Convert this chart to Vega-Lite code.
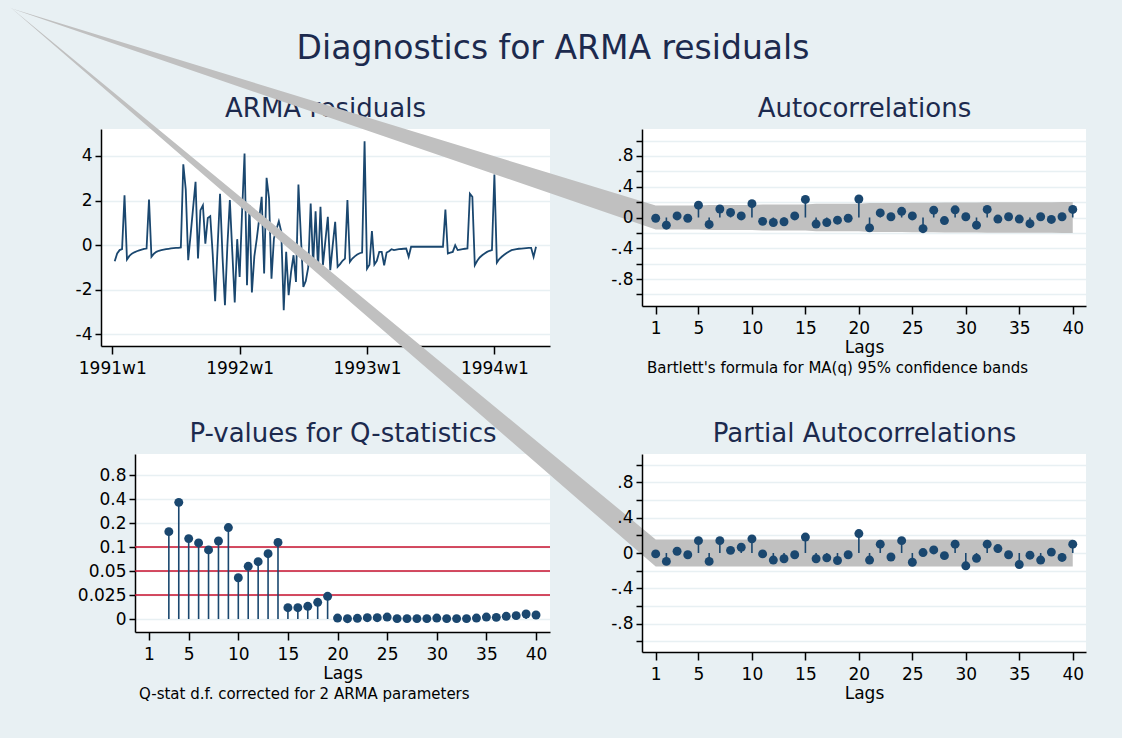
{
  "$schema": "https://vega.github.io/schema/vega-lite/v6.json",
  "background": "#e8f0f3",
  "padding": {"left": 8, "top": 6, "right": 36, "bottom": 37},
  "title": {"text": "Diagnostics for ARMA residuals", "fontSize": 33, "anchor": "middle", "frame": "bounds", "offset": -59, "dx": 6},
  "datasets": {
    "ts": [
      {"t":1,"v":-0.72},{"t":2,"v":-0.37},{"t":3,"v":-0.22},{"t":4,"v":-0.18},{"t":5,"v":2.24},{"t":6,"v":-0.64},{"t":7,"v":-0.48},{"t":8,"v":-0.38},{"t":9,"v":-0.32},{"t":10,"v":-0.27},
      {"t":11,"v":-0.23},{"t":12,"v":-0.2},{"t":13,"v":-0.17},{"t":14,"v":-0.15},{"t":15,"v":2.05},{"t":16,"v":-0.52},{"t":17,"v":-0.38},{"t":18,"v":-0.3},{"t":19,"v":-0.25},{"t":20,"v":-0.22},
      {"t":21,"v":-0.2},{"t":22,"v":-0.18},{"t":23,"v":-0.16},{"t":24,"v":-0.14},{"t":25,"v":-0.13},{"t":26,"v":-0.12},{"t":27,"v":-0.12},{"t":28,"v":-0.1},{"t":29,"v":3.63},{"t":30,"v":2.5},
      {"t":31,"v":-0.67},{"t":32,"v":0.5},{"t":33,"v":1.67},{"t":34,"v":2.84},{"t":35,"v":-0.6},{"t":36,"v":1.57},{"t":37,"v":1.79},{"t":38,"v":0.07},{"t":39,"v":1.22},{"t":40,"v":1.3},
      {"t":41,"v":-0.4},{"t":42,"v":-2.51},{"t":43,"v":-0.1},{"t":44,"v":2.31},{"t":45,"v":-0.5},{"t":46,"v":-2.69},{"t":47,"v":0.0},{"t":48,"v":2.02},{"t":49,"v":-0.3},{"t":50,"v":-2.57},
      {"t":51,"v":0.27},{"t":52,"v":-1.42},{"t":53,"v":1.5},{"t":54,"v":4.11},{"t":55,"v":-1.79},{"t":56,"v":1.79},{"t":57,"v":-2.12},{"t":58,"v":-0.5},{"t":59,"v":0.3},{"t":60,"v":1.2},
      {"t":61,"v":2.17},{"t":62,"v":-1.27},{"t":63,"v":3.02},{"t":64,"v":2.1},{"t":65,"v":-1.5},{"t":66,"v":0.3},{"t":67,"v":0.7},{"t":68,"v":1.07},{"t":69,"v":0.6},{"t":70,"v":-2.92},
      {"t":71,"v":-0.3},{"t":72,"v":-2.24},{"t":73,"v":-1.2},{"t":74,"v":-0.45},{"t":75,"v":-1.65},{"t":76,"v":2.72},{"t":77,"v":0.4},{"t":78,"v":-1.87},{"t":79,"v":-1.6},{"t":80,"v":-1.0},
      {"t":81,"v":1.87},{"t":82,"v":-0.9},{"t":83,"v":1.52},{"t":84,"v":-1.05},{"t":85,"v":1.72},{"t":86,"v":-0.9},{"t":87,"v":0.2},{"t":88,"v":1.27},{"t":89,"v":-1.12},{"t":90,"v":0.0},
      {"t":91,"v":1.05},{"t":92,"v":-0.97},{"t":93,"v":-0.85},{"t":94,"v":-0.7},{"t":95,"v":-0.6},{"t":96,"v":2.02},{"t":97,"v":-0.75},{"t":98,"v":-0.6},{"t":99,"v":-0.5},{"t":100,"v":-0.42},
      {"t":101,"v":-0.36},{"t":102,"v":-0.33},{"t":103,"v":4.66},{"t":104,"v":-1.05},{"t":105,"v":-0.87},{"t":106,"v":0.63},{"t":107,"v":-0.87},{"t":108,"v":-0.7},{"t":109,"v":-0.3},{"t":110,"v":-0.3},
      {"t":111,"v":-0.9},{"t":112,"v":-0.33},{"t":113,"v":-0.27},{"t":114,"v":-0.18},{"t":115,"v":-0.22},{"t":116,"v":-0.2},{"t":117,"v":-0.18},{"t":118,"v":-0.17},{"t":119,"v":-0.16},{"t":120,"v":-0.15},
      {"t":121,"v":-0.52},{"t":122,"v":-0.07},{"t":123,"v":-0.07},{"t":124,"v":-0.07},{"t":125,"v":-0.07},{"t":126,"v":-0.07},{"t":127,"v":-0.07},{"t":128,"v":-0.07},{"t":129,"v":-0.07},{"t":130,"v":-0.07},
      {"t":131,"v":-0.07},{"t":132,"v":-0.07},{"t":133,"v":-0.07},{"t":134,"v":-0.07},{"t":135,"v":-0.07},{"t":136,"v":1.6},{"t":137,"v":-0.37},{"t":138,"v":-0.33},{"t":139,"v":-0.3},{"t":140,"v":0.0},
      {"t":141,"v":-0.22},{"t":142,"v":-0.2},{"t":143,"v":-0.18},{"t":144,"v":-0.16},{"t":145,"v":-0.15},{"t":146,"v":2.31},{"t":147,"v":2.17},{"t":148,"v":-0.9},{"t":149,"v":-0.7},{"t":150,"v":-0.55},
      {"t":151,"v":-0.45},{"t":152,"v":-0.37},{"t":153,"v":-0.3},{"t":154,"v":-0.25},{"t":155,"v":-0.22},{"t":156,"v":3.17},{"t":157,"v":-0.78},{"t":158,"v":-0.62},{"t":159,"v":-0.52},{"t":160,"v":-0.43},
      {"t":161,"v":-0.35},{"t":162,"v":-0.28},{"t":163,"v":-0.22},{"t":164,"v":-0.2},{"t":165,"v":-0.18},{"t":166,"v":-0.16},{"t":167,"v":-0.15},{"t":168,"v":-0.14},{"t":169,"v":-0.13},{"t":170,"v":-0.12},
      {"t":171,"v":-0.12},{"t":172,"v":-0.52},{"t":173,"v":-0.07}
    ],
    "acf": [
      {"lag":1,"r":-0.01},{"lag":2,"r":-0.10},{"lag":3,"r":0.02},{"lag":4,"r":-0.01},{"lag":5,"r":0.16},{"lag":6,"r":-0.09},{"lag":7,"r":0.11},{"lag":8,"r":0.065},{"lag":9,"r":0.02},{"lag":10,"r":0.18},
      {"lag":11,"r":-0.05},{"lag":12,"r":-0.065},{"lag":13,"r":-0.055},{"lag":14,"r":0.02},{"lag":15,"r":0.235},{"lag":16,"r":-0.085},{"lag":17,"r":-0.065},{"lag":18,"r":-0.035},{"lag":19,"r":-0.01},{"lag":20,"r":0.24},
      {"lag":21,"r":-0.135},{"lag":22,"r":0.06},{"lag":23,"r":0.01},{"lag":24,"r":0.08},{"lag":25,"r":0.02},{"lag":26,"r":-0.145},{"lag":27,"r":0.095},{"lag":28,"r":-0.04},{"lag":29,"r":0.10},{"lag":30,"r":0.01},
      {"lag":31,"r":-0.10},{"lag":32,"r":0.105},{"lag":33,"r":-0.02},{"lag":34,"r":0.01},{"lag":35,"r":-0.02},{"lag":36,"r":-0.08},{"lag":37,"r":0.01},{"lag":38,"r":-0.025},{"lag":39,"r":0.01},{"lag":40,"r":0.105}
    ],
    "acfband": [
      {"lag":-59.38,"lo":2.722,"hi":2.722},
      {"lag":1,"lo":-0.155,"hi":0.155},{"lag":2,"lo":-0.155,"hi":0.155},{"lag":3,"lo":-0.157,"hi":0.157},{"lag":4,"lo":-0.157,"hi":0.157},{"lag":5,"lo":-0.157,"hi":0.157},
      {"lag":6,"lo":-0.161,"hi":0.161},{"lag":7,"lo":-0.162,"hi":0.162},{"lag":8,"lo":-0.164,"hi":0.164},{"lag":9,"lo":-0.164,"hi":0.164},{"lag":10,"lo":-0.164,"hi":0.164},
      {"lag":11,"lo":-0.169,"hi":0.169},{"lag":12,"lo":-0.169,"hi":0.169},{"lag":13,"lo":-0.170,"hi":0.170},{"lag":14,"lo":-0.170,"hi":0.170},{"lag":15,"lo":-0.170,"hi":0.170},
      {"lag":16,"lo":-0.178,"hi":0.178},{"lag":17,"lo":-0.179,"hi":0.179},{"lag":18,"lo":-0.179,"hi":0.179},{"lag":19,"lo":-0.180,"hi":0.180},{"lag":20,"lo":-0.180,"hi":0.180},
      {"lag":21,"lo":-0.187,"hi":0.187},{"lag":22,"lo":-0.189,"hi":0.189},{"lag":23,"lo":-0.190,"hi":0.190},{"lag":24,"lo":-0.190,"hi":0.190},{"lag":25,"lo":-0.191,"hi":0.191},
      {"lag":26,"lo":-0.191,"hi":0.191},{"lag":27,"lo":-0.193,"hi":0.193},{"lag":28,"lo":-0.195,"hi":0.195},{"lag":29,"lo":-0.195,"hi":0.195},{"lag":30,"lo":-0.196,"hi":0.196},
      {"lag":31,"lo":-0.196,"hi":0.196},{"lag":32,"lo":-0.197,"hi":0.197},{"lag":33,"lo":-0.199,"hi":0.199},{"lag":34,"lo":-0.199,"hi":0.199},{"lag":35,"lo":-0.199,"hi":0.199},
      {"lag":36,"lo":-0.199,"hi":0.199},{"lag":37,"lo":-0.199,"hi":0.199},{"lag":38,"lo":-0.199,"hi":0.199},{"lag":39,"lo":-0.200,"hi":0.200},{"lag":40,"lo":-0.200,"hi":0.200}
    ],
    "pacf": [
      {"lag":1,"r":-0.01},{"lag":2,"r":-0.095},{"lag":3,"r":0.02},{"lag":4,"r":-0.02},{"lag":5,"r":0.14},{"lag":6,"r":-0.095},{"lag":7,"r":0.14},{"lag":8,"r":0.03},{"lag":9,"r":0.065},{"lag":10,"r":0.16},
      {"lag":11,"r":-0.01},{"lag":12,"r":-0.08},{"lag":13,"r":-0.065},{"lag":14,"r":-0.02},{"lag":15,"r":0.18},{"lag":16,"r":-0.065},{"lag":17,"r":-0.055},{"lag":18,"r":-0.085},{"lag":19,"r":-0.02},{"lag":20,"r":0.22},
      {"lag":21,"r":-0.08},{"lag":22,"r":0.10},{"lag":23,"r":-0.045},{"lag":24,"r":0.14},{"lag":25,"r":-0.105},{"lag":26,"r":0.005},{"lag":27,"r":0.035},{"lag":28,"r":-0.03},{"lag":29,"r":0.10},{"lag":30,"r":-0.145},
      {"lag":31,"r":-0.06},{"lag":32,"r":0.10},{"lag":33,"r":0.05},{"lag":34,"r":-0.02},{"lag":35,"r":-0.13},{"lag":36,"r":-0.025},{"lag":37,"r":-0.08},{"lag":38,"r":0.01},{"lag":39,"r":-0.05},{"lag":40,"r":0.10}
    ],
    "pacfband": [
      {"lag":-59.38,"lo":6.177,"hi":6.177},
      {"lag":1,"lo":-0.154,"hi":0.154},{"lag":40,"lo":-0.154,"hi":0.154}
    ],
    "pv": [
      {"lag":3,"p":0.164},{"lag":4,"p":0.372},{"lag":5,"p":0.135},{"lag":6,"p":0.117},{"lag":7,"p":0.094},{"lag":8,"p":0.125},{"lag":9,"p":0.181},{"lag":10,"p":0.043},
      {"lag":11,"p":0.0597},{"lag":12,"p":0.0694},{"lag":13,"p":0.0861},{"lag":14,"p":0.119},{"lag":15,"p":0.0118},{"lag":16,"p":0.0118},{"lag":17,"p":0.0132},{"lag":18,"p":0.0174},
      {"lag":19,"p":0.0236},{"lag":20,"p":0.001},{"lag":21,"p":0.0003},{"lag":22,"p":0.0007},{"lag":23,"p":0.0014},{"lag":24,"p":0.0014},{"lag":25,"p":0.002},{"lag":26,"p":0.0004},
      {"lag":27,"p":0.0004},{"lag":28,"p":0.0004},{"lag":29,"p":0.0004},{"lag":30,"p":0.001},{"lag":31,"p":0.0004},{"lag":32,"p":0.0004},{"lag":33,"p":0.0004},{"lag":34,"p":0.001},
      {"lag":35,"p":0.002},{"lag":36,"p":0.0017},{"lag":37,"p":0.0028},{"lag":38,"p":0.0035},{"lag":39,"p":0.0052},{"lag":40,"p":0.0042}
    ],
    "pvlines": [{"p":0.1},{"p":0.05},{"p":0.025}]
  },
  "bounds": "flush",
  "spacing": 325,
  "vconcat": [
    {
      "bounds": "flush",
      "spacing": 92,
      "hconcat": [
        {"width": 1, "height": 1, "data": {"values": []}, "mark": "point", "view": {"fill": "transparent", "stroke": null}},
        {
          "width": 449, "height": 217,
          "title": {"text": "ARMA residuals", "offset": 7, "frame": "group"},
          "data": {"name": "ts"},
          "mark": {"type": "line", "color": "#1a476f", "strokeWidth": 1.8},
          "encoding": {
            "x": {"field": "t", "type": "quantitative", "scale": {"domain": [-4.6, 178.7], "nice": false, "zero": false},
                  "axis": {"values": [0, 52, 104, 156], "tickCount": 20, "labelExpr": "(1991 + datum.value/52) + 'w1'", "title": null, "labelOverlap": false}},
            "y": {"field": "v", "type": "quantitative", "scale": {"domain": [-4.52, 5.21], "nice": false, "zero": false},
                  "axis": {"values": [-4, -2, 0, 2, 4], "tickCount": 20, "labelExpr": "'' + datum.value", "title": null, "labelOverlap": false}}
          }
        },
        {
          "width": 444, "height": 177,
          "title": {"text": "Bartlett's formula for MA(q) 95% confidence bands", "orient": "bottom", "anchor": "start", "frame": "group", "fontSize": 15, "color": "black", "offset": 6, "dx": 5},
          "resolve": {"axis": {"x": "independent", "y": "independent"}},
          "layer": [
            {
              "data": {"name": "acfband"},
              "mark": {"type": "area", "color": "#c0c0c0", "opacity": 1, "clip": false},
              "encoding": {
                "x": {"field": "lag", "type": "quantitative", "scale": {"domain": [-0.28, 41.24], "nice": false, "zero": false},
                      "axis": {"values": [1, 5, 10, 15, 20, 25, 30, 35, 40], "tickCount": 20, "title": "Lags", "labelOverlap": false}},
                "y": {"field": "lo", "type": "quantitative", "scale": {"domain": [-1.15, 1.15], "nice": false, "zero": false},
                      "axis": {"orient": "left", "values": [-1, -0.8, -0.6, -0.4, -0.2, 0, 0.2, 0.4, 0.6, 0.8, 1], "tickCount": 20, "title": null,
                               "grid": true, "labels": false, "ticks": false, "domain": false, "zindex": 0}},
                "y2": {"field": "hi"}
              }
            },
            {
              "data": {"name": "acf"},
              "mark": {"type": "rule", "color": "#1a476f", "strokeWidth": 1.6},
              "encoding": {
                "x": {"field": "lag", "type": "quantitative", "axis": null},
                "y": {"field": "r", "type": "quantitative",
                      "axis": {"orient": "left", "values": [-1, -0.8, -0.6, -0.4, -0.2, 0, 0.2, 0.4, 0.6, 0.8, 1], "tickCount": 20, "title": null, "labelOverlap": false, "grid": false, "zindex": 1,
                               "labelExpr": "round(datum.value*10) % 4 != 0 ? '' : (datum.value == 0 ? '0' : (datum.value < 0 ? '-.' : '.') + round(abs(datum.value)*10))"}},
                "y2": {"datum": 0}
              }
            },
            {
              "data": {"name": "acf"},
              "mark": {"type": "circle", "color": "#1a476f", "size": 80, "opacity": 1},
              "encoding": {
                "x": {"field": "lag", "type": "quantitative",
                      "axis": {"orient": "top", "title": "Autocorrelations", "labels": false, "ticks": false, "domain": false, "grid": false,
                               "titleFontSize": 26, "titleColor": "#1c2a4e", "titlePadding": 8}},
                "y": {"field": "r", "type": "quantitative", "axis": null}
              }
            }
          ]
        }
      ]
    },
    {
      "bounds": "flush",
      "spacing": 92,
      "hconcat": [
        {"width": 35, "height": 1, "data": {"values": []}, "mark": "point", "view": {"fill": "transparent", "stroke": null}},
        {
          "width": 415, "height": 178,
          "title": {"text": "Q-stat d.f. corrected for 2 ARMA parameters", "orient": "bottom", "anchor": "start", "frame": "group", "fontSize": 15, "color": "black", "offset": 6, "dx": 4},
          "resolve": {"axis": {"x": "independent"}},
          "layer": [
            {
              "data": {"name": "pvlines"},
              "mark": {"type": "rule", "color": "#c8102e", "strokeWidth": 1.6},
              "encoding": {
                "y": {"field": "p", "type": "quantitative",
                      "scale": {"type": "linear", "domain": [-0.0135, 0, 0.025, 0.05, 0.1, 0.2, 0.4, 0.8, 1.49], "range": [178, 165, 141, 117, 93, 69, 45, 21, 0], "nice": false, "zero": false},
                      "axis": {"values": [0, 0.025, 0.05, 0.1, 0.2, 0.4, 0.8], "tickCount": 20, "labelExpr": "'' + datum.value", "title": null, "labelOverlap": false}}
              }
            },
            {
              "data": {"name": "pv"},
              "mark": {"type": "rule", "color": "#1a476f", "strokeWidth": 1.6},
              "encoding": {
                "x": {"field": "lag", "type": "quantitative", "scale": {"domain": [-0.41, 41.41], "nice": false, "zero": false},
                      "axis": {"values": [1, 5, 10, 15, 20, 25, 30, 35, 40], "tickCount": 20, "title": "Lags", "labelOverlap": false}},
                "y": {"field": "p", "type": "quantitative"}, "y2": {"datum": 0}
              }
            },
            {
              "data": {"name": "pv"},
              "mark": {"type": "circle", "color": "#1a476f", "size": 80, "opacity": 1},
              "encoding": {
                "x": {"field": "lag", "type": "quantitative",
                      "axis": {"orient": "top", "title": "P-values for Q-statistics", "labels": false, "ticks": false, "domain": false, "grid": false,
                               "titleFontSize": 26, "titleColor": "#1c2a4e", "titlePadding": 8}},
                "y": {"field": "p", "type": "quantitative"}
              }
            }
          ]
        },
        {
          "width": 444, "height": 198,
          "resolve": {"axis": {"x": "independent", "y": "independent"}},
          "layer": [
            {
              "data": {"name": "pacfband"},
              "mark": {"type": "area", "color": "#c0c0c0", "opacity": 1, "clip": false},
              "encoding": {
                "x": {"field": "lag", "type": "quantitative", "scale": {"domain": [-0.28, 41.24], "nice": false, "zero": false},
                      "axis": {"values": [1, 5, 10, 15, 20, 25, 30, 35, 40], "tickCount": 20, "title": "Lags", "labelOverlap": false}},
                "y": {"field": "lo", "type": "quantitative", "scale": {"domain": [-1.12, 1.12], "nice": false, "zero": false},
                      "axis": {"orient": "left", "values": [-1, -0.8, -0.6, -0.4, -0.2, 0, 0.2, 0.4, 0.6, 0.8, 1], "tickCount": 20, "title": null,
                               "grid": true, "labels": false, "ticks": false, "domain": false, "zindex": 0}},
                "y2": {"field": "hi"}
              }
            },
            {
              "data": {"name": "pacf"},
              "mark": {"type": "rule", "color": "#1a476f", "strokeWidth": 1.6},
              "encoding": {
                "x": {"field": "lag", "type": "quantitative", "axis": null},
                "y": {"field": "r", "type": "quantitative",
                      "axis": {"orient": "left", "values": [-1, -0.8, -0.6, -0.4, -0.2, 0, 0.2, 0.4, 0.6, 0.8, 1], "tickCount": 20, "title": null, "labelOverlap": false, "grid": false, "zindex": 1,
                               "labelExpr": "round(datum.value*10) % 4 != 0 ? '' : (datum.value == 0 ? '0' : (datum.value < 0 ? '-.' : '.') + round(abs(datum.value)*10))"}},
                "y2": {"datum": 0}
              }
            },
            {
              "data": {"name": "pacf"},
              "mark": {"type": "circle", "color": "#1a476f", "size": 80, "opacity": 1},
              "encoding": {
                "x": {"field": "lag", "type": "quantitative",
                      "axis": {"orient": "top", "title": "Partial Autocorrelations", "labels": false, "ticks": false, "domain": false, "grid": false,
                               "titleFontSize": 26, "titleColor": "#1c2a4e", "titlePadding": 8}},
                "y": {"field": "r", "type": "quantitative", "axis": null}
              }
            }
          ]
        }
      ]
    }
  ],
  "config": {
    "font": "DejaVu Sans",
    "view": {"stroke": null, "fill": "white"},
    "title": {"font": "DejaVu Sans", "fontSize": 26, "fontWeight": "normal", "color": "#1c2a4e"},
    "axis": {"labelFont": "DejaVu Sans", "labelFontSize": 17, "labelColor": "black", "titleFont": "DejaVu Sans", "titleFontSize": 17, "titleFontWeight": "normal", "titleColor": "black",
             "domainColor": "black", "domainWidth": 1.5, "tickColor": "black", "tickWidth": 1.5, "gridColor": "#e8f0f3", "gridWidth": 1.5, "labelOverlap": false, "labelFlush": false},
    "axisX": {"tickSize": 8, "labelPadding": 6, "titlePadding": 3, "grid": false},
    "axisY": {"tickSize": 6, "labelPadding": 3, "grid": true}
  }
}
